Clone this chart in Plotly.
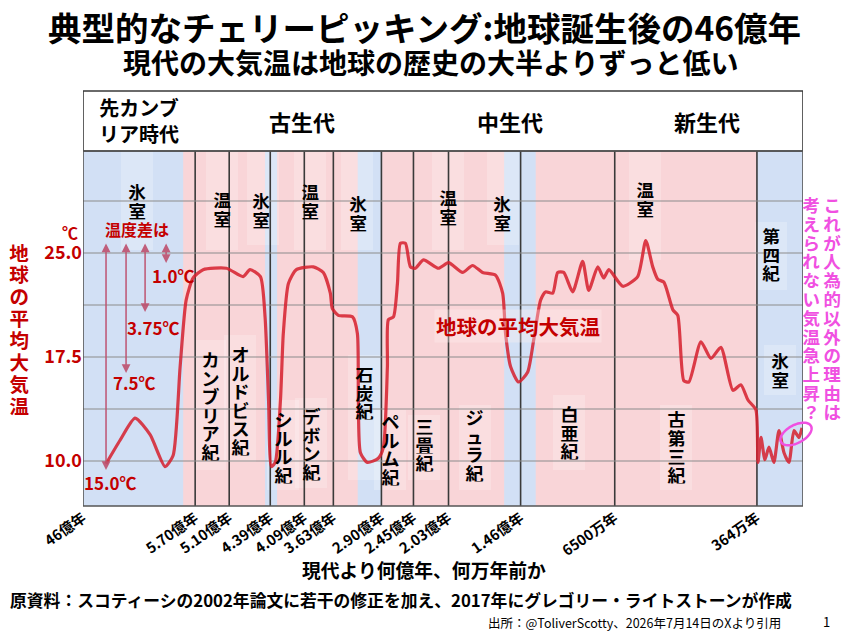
import numpy as np
import plotly.graph_objects as go

# ---------------- data ----------------
BOUNDARY_AGE_MA = [4600, 570, 510, 439, 409, 363, 290, 245, 203, 146, 65, 3.64, 0]
BOUNDARY_LABELS = ["46億年", "5.70億年", "5.10億年", "4.39億年", "4.09億年", "3.63億年",
                   "2.90億年", "2.45億年", "2.03億年", "1.46億年", "6500万年", "364万年", ""]

ERA_NAMES = ["先カンブ<br>リア時代", "古生代", "中生代", "新生代"]
ERA_START_MA = [4600, 570, 245, 65]
ERA_END_MA = [570, 245, 65, 0]

PERIOD_NAMES = ["カンブリア紀", "オルドビス紀", "シルル紀", "デボン紀", "石炭紀", "ペルム紀",
                "三畳紀", "ジュラ紀", "白亜紀", "古第三紀"]

ICEHOUSE_START_MA = [4600, 448, 326, 159, 3.64]
ICEHOUSE_END_MA = [1000, 433, 289, 133, 0]

CURVE_AGE_MA = [3772, 3269, 2729, 2189, 1650, 1362, 1110, 894, 642, 556, 515, 486, 474, 456,
                448, 442, 438, 434.6, 430, 427.5, 423, 416, 394.7, 378.9, 367.8, 364.6, 355.4,
                334, 326.5, 325, 321.9, 311.3, 294.6, 287.2, 281.6, 280.2, 273.1, 267.5, 263.3,
                256.3, 249.2, 242.6, 233, 215, 203, 191.9, 184, 176.1, 165.8, 160.2, 157.9,
                153.9, 147.6, 140, 134.8, 128.8, 124.5, 118.4, 114.1, 108.9, 101.2, 92.6, 87.4,
                79.6, 74.5, 70.1, 61.5, 55.1, 51.6, 48.6, 46.4, 43.8, 39.9, 37.8, 35.2, 33.0,
                27.8, 23.5, 19.2, 14.0, 10.6, 7.5, 4.1, 3.56, 3.32, 3.01, 2.69, 2.30, 1.90,
                1.50, 1.11, 0.71, 0.32, 0.08]
CURVE_TEMP_C = [9.8, 11.5, 13.1, 11.9, 9.6, 10.4, 16.8, 21.6, 23.2, 23.8, 23.9, 23.3, 23.8, 23.3,
                20.4, 14.4, 9.6, 9.9, 14.4, 19.2, 22.8, 23.8, 24.0, 23.6, 22.1, 21.0, 20.5,
                20.4, 19.2, 14.4, 10.6, 9.9, 10.2, 11.0, 16.8, 20.2, 20.4, 22.8, 25.7,
                25.7, 24.0, 23.9, 24.5, 23.9, 24.3, 23.6, 24.1, 23.6, 23.4, 22.1, 19.2,
                16.8, 15.7, 16.4, 18.7, 21.6, 22.2, 22.1, 23.6, 23.6, 22.2, 24.4, 22.3,
                24.0, 23.2, 23.8, 22.6, 23.3, 25.9, 24.0, 23.1, 22.9, 20.9, 20.5, 15.8, 15.7,
                18.6, 17.4, 18.2, 15.1, 15.5, 14.4, 13.7, 9.9, 11.7, 10.1, 11.0, 9.9, 12.2,
                10.6, 9.9, 12.2, 11.7, 12.4]

Y_TICKS = [10.0, 13.75, 17.5, 21.25, 25.0, 28.75]
Y_TICK_TEXT = ["10.0", "", "17.5", "", "25.0", ""]

DIFF_LABELS = ["15.0℃", "7.5℃", "3.75℃", "1.0℃"]

# ---------------- layout helpers ----------------
FONT = "Noto Sans CJK JP"
RED = "#c40000"
MAGENTA = "rgb(240,80,225)"
PINK = "rgb(249,213,216)"
BLUE = "rgb(210,224,245)"
LINEC = "#3a3a3a"

W, H = 848, 634
L, R, T, B = 83, 803, 151, 506
HEADER_TOP = 91
# broken time scale of the chart: screen offset of each boundary
AXIS_STOPS = [0, 112, 146, 187, 221, 250, 298, 330, 365, 437, 531, 673, 719]


def to_x(age):
    return np.interp(-np.asarray(age, dtype=float), -np.asarray(BOUNDARY_AGE_MA, dtype=float),
                     AXIS_STOPS)


def xp(px):
    return (px - L) / (R - L)


def yp(py):
    return (B - py) / (B - T)


Y_RANGE = [25 - (B - 253) / 13.87, 25 + (253 - T) / 13.87]


def ty(py):
    return 25 - (py - 253) / 13.87


fig = go.Figure()

fig.add_trace(go.Scatter(
    x=to_x(CURVE_AGE_MA), y=CURVE_TEMP_C, mode="lines",
    line=dict(color="rgba(214,30,45,0.85)", width=3.2, shape="spline", smoothing=0.6),
    hoverinfo="skip", showlegend=False))

shapes = []
shapes.append(dict(type="rect", xref="x", yref="paper", x0=0, x1=float(to_x(0)), y0=0, y1=1,
                   fillcolor=PINK, line_width=0, layer="below"))
for s, e in zip(ICEHOUSE_START_MA, ICEHOUSE_END_MA):
    shapes.append(dict(type="rect", xref="x", yref="paper", x0=float(to_x(s)), x1=float(to_x(e)),
                       y0=0, y1=1, fillcolor=BLUE, line_width=0, layer="below"))

# pale label boxes
for cx, y0p, y1p in [(137, 151, 250), (222, 151, 250), (263, 151, 245), (310, 151, 250),
                     (357, 151, 250), (448, 151, 250), (503, 151, 245), (645, 151, 260),
                     (210, 340, 470), (240, 335, 462), (283, 400, 490), (311, 398, 488),
                     (364, 355, 480), (390, 410, 490), (424, 415, 480), (475, 405, 490),
                     (569, 395, 470), (676, 405, 490), (771, 222, 290), (780, 345, 395)]:
    shapes.append(dict(type="rect", xref="paper", yref="paper", x0=xp(cx - 16), x1=xp(cx + 16),
                       y0=yp(y1p), y1=yp(y0p), fillcolor="rgba(255,255,255,0.22)", line_width=0,
                       layer="between"))

for a in BOUNDARY_AGE_MA[1:-1]:
    top = yp(HEADER_TOP) if a in ERA_START_MA else 1
    shapes.append(dict(type="line", xref="x", yref="paper", x0=float(to_x(a)), x1=float(to_x(a)),
                       y0=0, y1=top, line=dict(color=LINEC, width=1.6), layer="between"))
shapes.append(dict(type="rect", xref="x", yref="paper", x0=0, x1=float(to_x(0)), y0=1,
                   y1=yp(HEADER_TOP), fillcolor="white", line=dict(color=LINEC, width=1.6)))
shapes.append(dict(type="rect", xref="x", yref="paper", x0=0, x1=float(to_x(0)), y0=0,
                   y1=1, line=dict(color="#555", width=1.6)))

# magenta ellipse around the last rise
cxp, cyp, rx, ry, ang = 796, 434, 17, 9, np.deg2rad(-28)
t = np.linspace(0, 2 * np.pi, 60)
ex = cxp + rx * np.cos(t) * np.cos(ang) - ry * np.sin(t) * np.sin(ang)
ey = cyp + rx * np.cos(t) * np.sin(ang) + ry * np.sin(t) * np.cos(ang)
path = "M " + " L ".join(f"{xp(a):.5f},{yp(b):.5f}" for a, b in zip(ex, ey)) + " Z"
shapes.append(dict(type="path", xref="paper", yref="paper", path=path,
                   line=dict(color=MAGENTA, width=2.5)))

ann = []


def text(s, px, py, size, color="black", bold=True, **kw):
    d = dict(text=s, x=xp(px), y=yp(py), xref="paper", yref="paper", showarrow=False,
             font=dict(family=FONT, size=size, color=color, weight="bold" if bold else "normal"),
             xanchor="center", yanchor="middle")
    d.update(kw)
    ann.append(d)


def vtext(s, px, py_first, size, step, color="black", bold=True):
    for i, ch in enumerate(s):
        text(ch, px, py_first + i * step, size, color, bold, height=step - 1, width=size + 1,
             borderpad=0)


# titles
text("典型的なチェリーピッキング:地球誕生後の46億年", 424, 26, 33.5)
text("現代の大気温は地球の歴史の大半よりずっと低い", 430, 62, 28)

# era header
era_px = [139, 302, 510, 707]
for name, cx in zip(ERA_NAMES, era_px):
    text(name, cx, 121, 22 if "<br>" not in name else 20, bold=True)

# icehouse / greenhouse labels
for s, cx, cy in [("氷室", 137, 192), ("温室", 222, 200), ("氷室", 261, 201), ("温室", 310, 192),
                  ("氷室", 358, 204), ("温室", 448, 198), ("氷室", 502, 204), ("温室", 645, 190),
                  ("第四紀", 771, 236), ("氷室", 780, 361)]:
    vtext(s, cx, cy, 17.5, 18.5)

# period labels
period_pos = [(210, 359), (240, 354), (283, 419), (311, 416), (364, 374), (390, 421),
              (424, 426), (475, 417), (569, 414), (676, 419)]
for name, (cx, cy) in zip(PERIOD_NAMES, period_pos):
    vtext(name, cx, cy, 18, 18.6, bold=True)

# left axis annotations
vtext("地球の平均大気温", 19, 252, 19.5, 21.9, color=RED)
text("℃", 70, 232, 16, RED)
text("温度差は", 137, 229, 16, RED)
for s, cx, cy in zip(DIFF_LABELS, [110, 134, 153, 173], [482, 382, 327, 275]):
    text(s, cx, cy, 17, RED)
for xpx, bot in zip([106, 126, 145, 166], [470, 373, 312, 263]):
    ann.append(dict(x=xpx - L, y=ty(bot), ax=xpx - L, ay=ty(242), xref="x", yref="y",
                    axref="x", ayref="y", text="", showarrow=True, arrowhead=2, startarrowhead=2,
                    arrowside="end+start", arrowsize=1.1, arrowwidth=1.6,
                    arrowcolor="rgba(190,80,110,0.9)"))

text("地球の平均大気温", 518, 326, 20.5, RED, bgcolor="rgba(255,240,240,0.35)")

# magenta comment
vtext("これが人為的以外の理由は", 832, 205, 17.5, 18.8, color=MAGENTA)
vtext("考えられない気温急上昇？", 811, 205, 17.5, 18.8, color=MAGENTA)

# bottom texts
text("現代より何億年、何万年前か", 424, 569, 18.8)
text("原資料：スコティーシの2002年論文に若干の修正を加え、2017年にグレゴリー・ライトストーンが作成",
     8, 600, 16.8, xanchor="left")
text("出所：@ToliverScotty、2026年7月14日のXより引用", 634, 622, 12.5, bold=False)
text("1", 826, 621, 13, bold=False)

fig.update_layout(
    width=W, height=H, margin=dict(l=L, r=W - R, t=T, b=H - B),
    paper_bgcolor="white", plot_bgcolor="white",
    shapes=shapes, annotations=ann, showlegend=False,
    xaxis=dict(range=[0, AXIS_STOPS[-1]], showgrid=False, zeroline=False,
               tickvals=[float(v) for v in to_x(BOUNDARY_AGE_MA)], ticktext=BOUNDARY_LABELS,
               tickangle=-35, tickfont=dict(family=FONT, size=14.5, color="black", weight="bold"),
               ticks="", fixedrange=True, automargin=False),
    yaxis=dict(range=Y_RANGE, tickvals=Y_TICKS, ticktext=Y_TICK_TEXT, showgrid=True,
               gridcolor="rgba(140,140,140,0.5)", gridwidth=1.5, zeroline=False, ticks="",
               tickfont=dict(family=FONT, size=18, color=RED, weight="bold"), fixedrange=True),
    font=dict(family=FONT),
)

fig.write_html("out.html", config={"displayModeBar": False},
               post_script="document.body.style.margin='0';")
